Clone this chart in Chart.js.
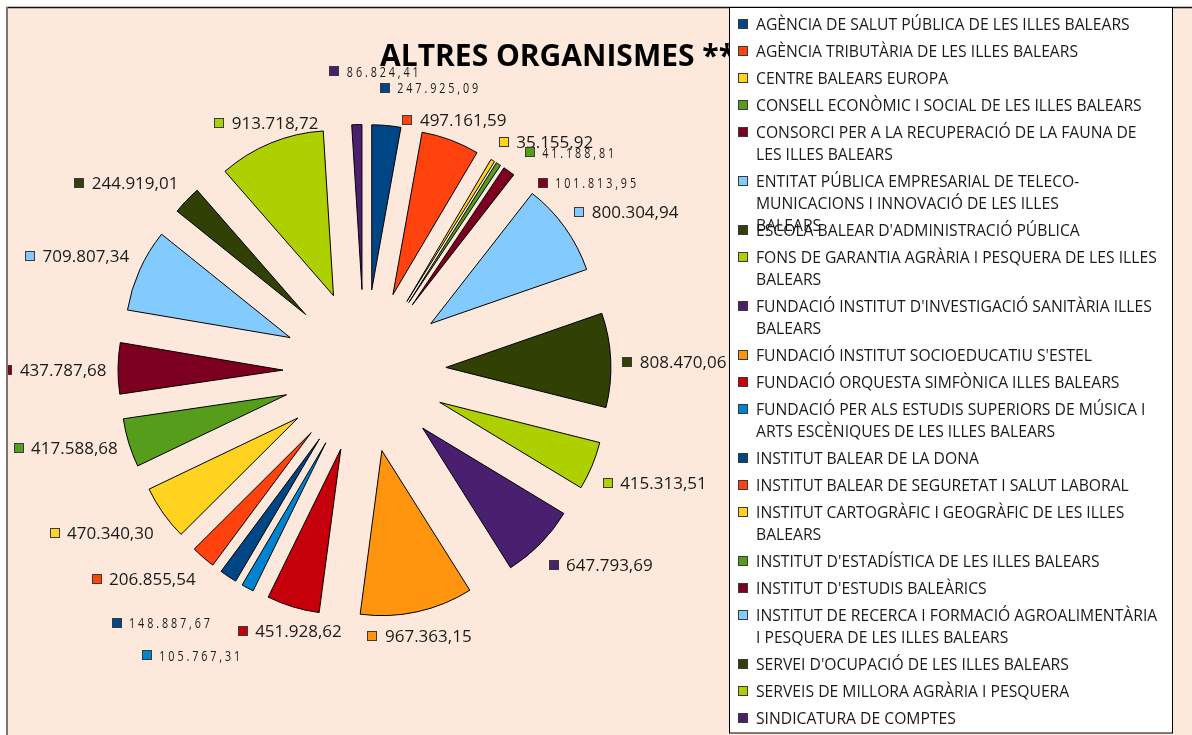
<!DOCTYPE html>
<html>
<head>
<meta charset="utf-8">
<script src="https://cdn.jsdelivr.net/npm/chart.js"></script>
<style>
  html, body { margin: 0; padding: 0; background: #fff; }
  canvas { display: block; }
</style>
</head>
<body>
<canvas id="chart" width="1192" height="735"></canvas>
<script>
// Data
const TITLE = 'ALTRES ORGANISMES **';
const CATEGORIES = [
  ['AGÈNCIA DE SALUT PÚBLICA DE LES ILLES BALEARS'],
  ['AGÈNCIA TRIBUTÀRIA DE LES ILLES BALEARS'],
  ['CENTRE BALEARS EUROPA'],
  ['CONSELL ECONÒMIC I SOCIAL DE LES ILLES BALEARS'],
  ['CONSORCI PER A LA RECUPERACIÓ DE LA FAUNA DE', 'LES ILLES BALEARS'],
  ['ENTITAT PÚBLICA EMPRESARIAL DE TELECO-', 'MUNICACIONS I INNOVACIÓ DE LES ILLES', 'BALEARS'],
  ["ESCOLA BALEAR D'ADMINISTRACIÓ PÚBLICA"],
  ['FONS DE GARANTIA AGRÀRIA I PESQUERA DE LES ILLES', 'BALEARS'],
  ["FUNDACIÓ INSTITUT D'INVESTIGACIÓ SANITÀRIA ILLES", 'BALEARS'],
  ["FUNDACIÓ INSTITUT SOCIOEDUCATIU S'ESTEL"],
  ['FUNDACIÓ ORQUESTA SIMFÒNICA ILLES BALEARS'],
  ['FUNDACIÓ PER ALS ESTUDIS SUPERIORS DE MÚSICA I', 'ARTS ESCÈNIQUES DE LES ILLES BALEARS'],
  ['INSTITUT BALEAR DE LA DONA'],
  ['INSTITUT BALEAR DE SEGURETAT I SALUT LABORAL'],
  ['INSTITUT CARTOGRÀFIC I GEOGRÀFIC DE LES ILLES', 'BALEARS'],
  ["INSTITUT D'ESTADÍSTICA DE LES ILLES BALEARS"],
  ["INSTITUT D'ESTUDIS BALEÀRICS"],
  ['INSTITUT DE RECERCA I FORMACIÓ AGROALIMENTÀRIA', 'I PESQUERA DE LES ILLES BALEARS'],
  ["SERVEI D'OCUPACIÓ DE LES ILLES BALEARS"],
  ['SERVEIS DE MILLORA AGRÀRIA I PESQUERA'],
  ['SINDICATURA DE COMPTES']
];
const VALUES = [
  247925.09, 497161.59, 35155.92, 41188.81, 101813.95, 800304.94, 808470.06,
  415313.51, 647793.69, 967363.15, 451928.62, 105767.31, 148887.67, 206855.54,
  470340.30, 417588.68, 437787.68, 709807.34, 244919.01, 913718.72, 86824.41
];

// Look
const PALETTE = ['#004586', '#ff420e', '#ffd320', '#579d1c', '#7e0021', '#83caff',
                 '#314004', '#aecf00', '#4b1f6f', '#ff950e', '#c5000b', '#0084d1'];
const COLORS = VALUES.map((v, i) => PALETTE[i % PALETTE.length]);
const BG = '#fce9db';
const FONT = '"Open Sans", "Noto Sans", sans-serif';
const EXPLODE = 81.5;          // how far every slice is pulled out
// labels that were dragged by hand in the original (nudge in px)
const LABEL_MOVES = { 0: [43, -17], 3: [20, 7], 4: [22, 30], 11: [1, 44], 12: [-9, 24], 20: [19, -33] };

function fmt(v) {
  const [i, d] = v.toFixed(2).split('.');
  return i.replace(/\B(?=(\d{3})+(?!\d))/g, '.') + ',' + d;
}

// pull each slice out along its middle angle
const explodePlugin = {
  id: 'explode',
  beforeDatasetsDraw(chart) {
    chart.getDatasetMeta(0).data.forEach(arc => {
      if (arc._exploded) return;
      const draw = arc.draw;
      arc.draw = function(ctx) {
        const mid = (this.startAngle + this.endAngle) / 2;
        ctx.save();
        ctx.translate(Math.cos(mid) * EXPLODE, Math.sin(mid) * EXPLODE);
        draw.call(this, ctx);
        ctx.restore();
      };
      arc._exploded = true;
    });
  }
};

const framePlugin = {
  id: 'frame',
  beforeDraw(chart) {
    const ctx = chart.ctx;
    ctx.save();
    ctx.fillStyle = '#fff';
    ctx.fillRect(0, 0, chart.width, chart.height);
    ctx.fillStyle = BG;
    ctx.fillRect(6, 7, chart.width - 6, chart.height - 7);
    ctx.strokeStyle = '#111';
    ctx.lineWidth = 1.5;
    ctx.beginPath(); ctx.moveTo(6, 7.5); ctx.lineTo(chart.width, 7.5); ctx.stroke();
    ctx.strokeStyle = '#7a7370';
    ctx.lineWidth = 2;
    ctx.beginPath(); ctx.moveTo(7, 7); ctx.lineTo(7, chart.height); ctx.stroke();
    ctx.restore();
  }
};

const labelPlugin = {
  id: 'valueLabels',
  afterDatasetsDraw(chart) {
    const ctx = chart.ctx;
    const lim = Math.sin(Math.PI / 8);
    ctx.save();
    ctx.beginPath(); ctx.rect(8, 8, chart.width, chart.height); ctx.clip();
    chart.getDatasetMeta(0).data.forEach((arc, i) => {
      const mid = (arc.startAngle + arc.endAngle) / 2;
      const dx = Math.cos(mid), dy = Math.sin(mid);
      const r = EXPLODE + arc.outerRadius + 11.5;
      const px = arc.x + dx * r, py = arc.y + dy * r;
      const text = fmt(VALUES[i]);
      const moved = LABEL_MOVES[i];
      let tw;
      if (moved) {
        ctx.font = '15px ' + FONT; ctx.letterSpacing = '4px';
        tw = ctx.measureText(text).width * 0.72;
      } else {
        ctx.font = '17px ' + FONT; ctx.letterSpacing = '0px';
        tw = ctx.measureText(text).width;
      }
      const w = 17.5 + tw, h = 22;
      let left = dx > lim ? px : dx < -lim ? px - w : px - w / 2;
      let top = dy > lim ? py : dy < -lim ? py - h : py - h / 2;
      if (moved) { left += moved[0]; top += moved[1]; }
      const cy = top + 13;
      const sx = Math.round(left) + 0.5, sy = Math.round(cy - 5) + 0.5;
      ctx.fillStyle = COLORS[i];
      ctx.fillRect(sx, sy, 9, 9);
      ctx.strokeStyle = '#3a3a3a'; ctx.lineWidth = 1;
      ctx.strokeRect(sx, sy, 9, 9);
      ctx.fillStyle = '#1a1a1a';
      ctx.textBaseline = 'alphabetic'; ctx.textAlign = 'left';
      if (moved) {
        ctx.save();
        ctx.translate(left + 17.5, cy + 5.4);
        ctx.scale(0.72, 1);
        ctx.fillText(text, 0, 0);
        ctx.restore();
      } else {
        ctx.fillText(text, left + 17.5, cy + 6);
      }
    });
    ctx.letterSpacing = '0px';
    ctx.restore();
  }
};

const legendPlugin = {
  id: 'boxLegend',
  afterDraw(chart) {
    const ctx = chart.ctx;
    ctx.save();
    // title sits under the legend box, as in the original
    ctx.font = 'bold 30px ' + FONT;
    ctx.fillStyle = '#000';
    ctx.textAlign = 'left'; ctx.textBaseline = 'alphabetic';
    ctx.fillText(TITLE, 380, 66);

    ctx.fillStyle = '#fff';
    ctx.fillRect(729.5, 7.5, 443, 725.5);
    ctx.strokeStyle = '#000'; ctx.lineWidth = 1;
    ctx.strokeRect(729.5, 7.5, 443, 725.5);

    ctx.font = '15.7px ' + FONT;
    ctx.textAlign = 'left';
    let y = 24;
    CATEGORIES.forEach((lines, i) => {
      ctx.fillStyle = COLORS[i];
      ctx.fillRect(738.5, Math.round(y - 5) + 0.5, 9, 9);
      ctx.strokeStyle = '#3a3a3a';
      ctx.strokeRect(738.5, Math.round(y - 5) + 0.5, 9, 9);
      ctx.fillStyle = '#1a1a1a';
      lines.forEach((t, k) => ctx.fillText(t, 756, y + 5.5 + k * 22));
      // the original reserves at most two rows per entry
      y += Math.min(lines.length, 2) * 22 + 5;
    });
    ctx.restore();
  }
};

const chart = new Chart(document.getElementById('chart'), {
  type: 'pie',
  data: {
    labels: CATEGORIES,
    datasets: [{
      data: VALUES,
      backgroundColor: COLORS,
      borderColor: '#000',
      borderWidth: 1,
      borderJoinStyle: 'miter',
      radius: 165
    }]
  },
  options: {
    responsive: false,
    animation: false,
    layout: { padding: { left: 100, right: 563, top: 110, bottom: 103 } },
    plugins: {
      legend: { display: false },
      title: { display: false },
      tooltip: { enabled: false }
    }
  },
  plugins: [framePlugin, explodePlugin, labelPlugin, legendPlugin]
});
</script>
</body>
</html>
